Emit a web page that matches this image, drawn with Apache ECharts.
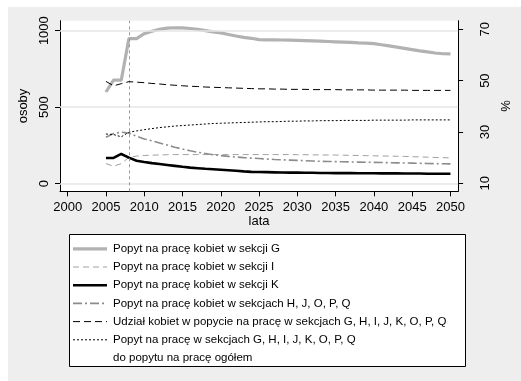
<!DOCTYPE html>
<html><head><meta charset="utf-8">
<script src="https://cdn.jsdelivr.net/npm/echarts@6/dist/echarts.min.js"></script>
<style>html,body{margin:0;padding:0;background:#fff;overflow:hidden}#c{width:521px;height:381px}</style>
</head><body><div id="c"></div>
<script>
var years = [2005,2006,2007,2008,2009,2010,2011,2012,2013,2014,2015,2016,2017,2018,2019,2020,2021,2022,2023,2024,2025,2026,2027,2028,2029,2030,2031,2032,2033,2034,2035,2036,2037,2038,2039,2040,2041,2042,2043,2044,2045,2046,2047,2048,2049,2050];
var sekcjaG = [599,676,676,948,948,980,996,1008,1016,1019,1018,1014,1008,1000,992,985,975,965,956,950,941,940,940,939,938,937,935,933,931,929,927,925,923,920,918,915,908,900,892,884,876,868,861,854,849,848];
var sekcjaI = [131,114,131,172,180,184,186,188,189,190,190,190,190,190,190,190,190,190,190,190,190,190,190,190,190,189,189,188,188,187,187,186,185,184,183,182,181,180,179,178,176,175,173,171,170,168];
var sekcjaK = [168,168,194,170,150,141,134,128,122,116,110,105,101,97,94,91,88,84,80,77,76,75,74,73,72,72,71,71,70,70,69,69,69,68,68,68,67,67,67,66,66,66,65,65,65,65];
var sekcjeHJOPQ = [303,328,336,330,310,292,280,266,252,238,226,215,205,197,189,183,178,174,170,167,164,161,158,156,154,152,150,148,146,145,144,143,142,141,140,139,138,137,136,135,134,133,132,131,130,129];
var udzialKobiet = [49.7,48.0,48.8,49.6,49.4,49.2,48.9,48.7,48.4,48.2,48.0,47.8,47.7,47.5,47.4,47.3,47.2,47.1,47.0,46.9,46.8,46.8,46.7,46.7,46.6,46.6,46.6,46.5,46.5,46.5,46.5,46.4,46.4,46.4,46.4,46.3,46.3,46.3,46.3,46.3,46.2,46.2,46.2,46.2,46.2,46.2];
var udzialSekcji = [29.2,29.0,28.1,29.9,30.4,30.9,31.3,31.7,32.0,32.3,32.5,32.7,32.9,33.1,33.3,33.4,33.5,33.6,33.7,33.8,33.9,34.0,34.0,34.1,34.2,34.2,34.3,34.3,34.4,34.4,34.4,34.5,34.5,34.5,34.5,34.6,34.6,34.6,34.6,34.6,34.7,34.7,34.7,34.7,34.7,34.7];
var xTicks = [2000,2005,2010,2015,2020,2025,2030,2035,2040,2045,2050];
var leftTicks = [0,500,1000];
var rightTicks = [10,30,50,70];
var legendNames = ['Popyt na pracę kobiet w sekcji G','Popyt na pracę kobiet w sekcji I','Popyt na pracę kobiet w sekcji K','Popyt na pracę kobiet w sekcjach H, J, O, P, Q','Udział kobiet w popycie na pracę w sekcjach G, H, I, J, K, O, P, Q','Popyt na pracę w sekcjach G, H, I, J, K, O, P, Q\ndo popytu na pracę ogółem'];

function pairs(v){return years.map(function(y,i){return [y,v[i]];});}
function plain(v){return String(v);}
var FONT = '"Liberation Sans", Arial, sans-serif';
var styles = [
  {color:'#b2b2b2', width:3.2, type:'solid'},
  {color:'#a0a0a0', width:1, type:[6,4]},
  {color:'#000000', width:2.6, type:'solid'},
  {color:'#8c8c8c', width:1.6, type:[9,3,2,3]},
  {color:'#000000', width:1, type:[7,4]},
  {color:'#000000', width:1, type:[2,2]}
];
var datasets = [sekcjaG, sekcjaI, sekcjaK, sekcjeHJOPQ, udzialKobiet, udzialSekcji];
var axisIdx = [0,0,0,0,1,1];

var series = [{
  type:'line', data:[], yAxisIndex:0, z:1, silent:true,
  markLine:{symbol:'none', silent:true, label:{show:false},
    data:[
      {yAxis:0, lineStyle:{color:'#e6e6e6', width:1.5, type:'solid'}},
      {yAxis:500, lineStyle:{color:'#e6e6e6', width:1.5, type:'solid'}},
      {yAxis:1000, lineStyle:{color:'#e6e6e6', width:1.5, type:'solid'}},
      {xAxis:2008, lineStyle:{color:'#9a9a9a', width:1, type:[3,3]}}
    ]}
}];
datasets.forEach(function(d,i){
  series.push({type:'line', name:legendNames[i], data:pairs(d), yAxisIndex:axisIdx[i],
    showSymbol:false, symbol:'none', z:2+i, lineStyle:styles[i], itemStyle:{color:styles[i].color}});
});

// legend drawn as graphic
var BX0=69.5, BY0=234.5, BX1=465.5, BY1=366.5;
var lg = [
  {type:'rect', shape:{x:BX0,y:BY0,width:BX1-BX0,height:BY1-BY0}, style:{fill:'#ffffff', stroke:null}},
  {type:'polyline', shape:{points:[[BX0,BY0],[BX1,BY0],[BX1,BY1],[BX0,BY1],[BX0,BY0]]}, style:{stroke:'#000', lineWidth:1, fill:null}}
];
legendNames.forEach(function(n,i){
  var cy = 248.8 + 18.2*i;
  var s = styles[i];
  lg.push({type:'line', shape:{x1:73,y1:cy,x2:107,y2:cy}, style:{stroke:s.color, lineWidth:s.width, lineDash:(s.type==='solid'?null:s.type)}});
  lg.push({type:'text', x:113, y:cy-8.8, style:{text:n, font:'11.5px '+FONT, fill:'#000', verticalAlign:'top', lineHeight:17.6}});
});

var chart = echarts.init(document.getElementById('c'), null, {renderer:'canvas'});
chart.setOption({
  backgroundColor:'#ffffff',
  animation:false,
  textStyle:{fontFamily:FONT},
  graphic:[{type:'rect', z:-100, shape:{x:8,y:7,width:513,height:374}, style:{fill:'#eeeeee'}, silent:true}].concat(lg.map(function(e){e.z=100;e.silent=true;return e;})),
  grid:{left:60, right:44, top:20.7, bottom:189.7, show:true, backgroundColor:'#ffffff', borderWidth:0, containLabel:false},
  xAxis:{type:'value', min:1999, max:2051, name:'lata', nameLocation:'middle', nameGap:24,
    nameTextStyle:{fontSize:13, color:'#000', verticalAlign:'top', fontFamily:FONT},
    axisLine:{show:true, onZero:false, lineStyle:{color:'#000', width:1}},
    axisTick:{show:true, length:5, customValues:xTicks, lineStyle:{color:'#000'}},
    axisLabel:{customValues:xTicks, formatter:plain, fontSize:13, color:'#000', margin:10, fontFamily:FONT},
    splitLine:{show:false}},
  yAxis:[
    {type:'value', min:-50, max:1065, position:'left', name:'osoby', nameLocation:'middle', nameRotate:90, nameGap:16,
      nameTextStyle:{fontSize:13, color:'#000', fontFamily:FONT},
      axisLine:{show:true, lineStyle:{color:'#000', width:1}},
      axisTick:{show:true, length:5, customValues:leftTicks, lineStyle:{color:'#000'}},
      axisLabel:{customValues:leftTicks, formatter:plain, rotate:90, fontSize:13, color:'#000', margin:9, fontFamily:FONT},
      splitLine:{show:false}},
    {type:'value', min:6.88, max:73.35, position:'right', name:'%', nameLocation:'middle', nameRotate:90, nameGap:20,
      nameTextStyle:{fontSize:13, color:'#000', fontFamily:FONT},
      axisLine:{show:true, lineStyle:{color:'#000', width:1}},
      axisTick:{show:true, length:5, customValues:rightTicks, lineStyle:{color:'#000'}},
      axisLabel:{customValues:rightTicks, formatter:plain, rotate:90, fontSize:13, color:'#000', margin:21, fontFamily:FONT},
      splitLine:{show:false}}
  ],
  series:series
});
</script></body></html>
